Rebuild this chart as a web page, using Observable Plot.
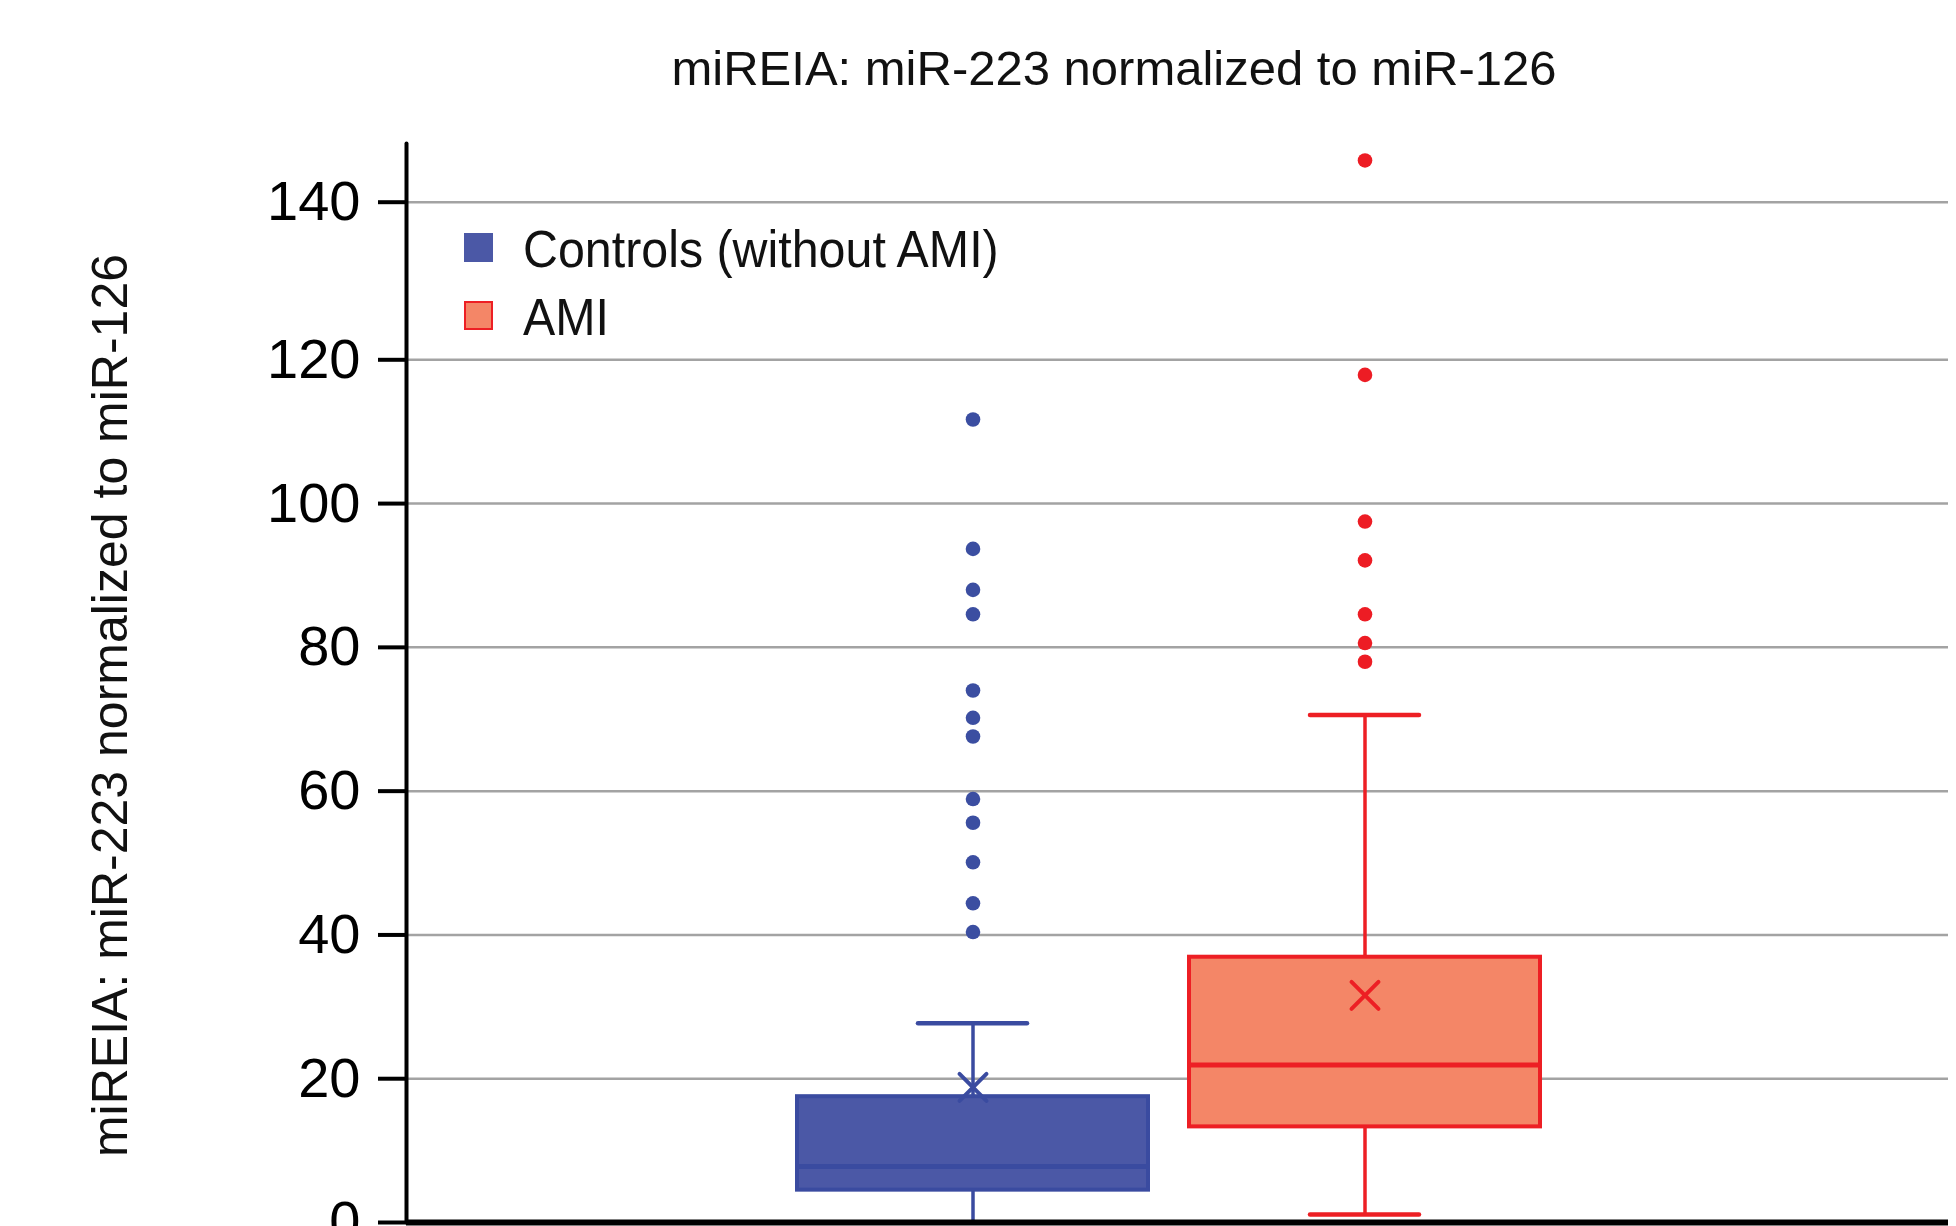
<!DOCTYPE html>
<html><head><meta charset="utf-8">
<script src="https://cdn.jsdelivr.net/npm/d3@7"></script>
<script src="https://cdn.jsdelivr.net/npm/@observablehq/plot@0.6"></script>
<style>
html,body{margin:0;padding:0;background:#fff;}
#wrap{position:relative;width:1956px;height:1226px;overflow:hidden;font-family:"Liberation Sans",Arial,sans-serif;color:#111;}
#title{height:120px;box-sizing:border-box;padding-top:44px;padding-left:272px;text-align:center;font-size:49px;line-height:49px;white-space:nowrap;}
.sw{position:absolute;width:29px;height:29px;box-sizing:border-box;}
.lt{position:absolute;font-size:52px;line-height:52px;white-space:nowrap;transform:scaleX(0.93);transform-origin:left center;}
</style></head><body>
<div id="wrap">
<div id="title">miREIA: miR-223 normalized to miR-126</div>
<div id="chart"></div>
<div id="legend"></div>
</div>
<script>
const groups = ["Controls (without AMI)", "AMI"];
const lowerWhisker = [0, 1.1];
const q1 = [4.5, 13.3];
const median = [7.8, 21.9];
const q3 = [17.5, 36.9];
const upperWhisker = [27.7, 70.6];
const mean = [18.8, 31.6];
const outliersControls = [111.7, 93.7, 88.0, 84.6, 74.0, 70.2, 67.6, 58.9, 55.6, 50.1, 44.4, 40.4];
const outliersAMI = [145.3, 117.9, 97.5, 92.1, 84.6, 80.6, 78.0];
const yTicks = [0, 20, 40, 60, 80, 100, 120, 140];
const fills = ["#4B58A6", "#F48667"];
const strokes = ["#3A4BA0", "#ED1F24"];
const dotColors = ["#3B4EA1", "#ED1C24"];
const yLabel = "miREIA: miR-223 normalized to miR-126";

const boxes = groups.map((g, i) => ({group: g, lo: lowerWhisker[i], q1: q1[i], med: median[i], q3: q3[i], hi: upperWhisker[i], mean: mean[i]}));
const outliers = [
  ...outliersControls.map(v => ({group: groups[0], v})),
  ...outliersAMI.map(v => ({group: groups[1], v}))
];

const marks = [
  Plot.gridY(yTicks, {stroke: "#A3A3A3", strokeOpacity: 1, strokeWidth: 2.5}),
  ...groups.flatMap((g, i) => {
    const d = [boxes[i]];
    const c = strokes[i];
    return [
      Plot.ruleX(d, {x: "group", y1: "q3", y2: "hi", stroke: c, strokeWidth: 3.5}),
      Plot.ruleX(d, {x: "group", y1: "lo", y2: "q1", stroke: c, strokeWidth: 3.5}),
      Plot.tickY(d, {x: "group", y: "hi", stroke: c, strokeWidth: 4.5, strokeLinecap: "round", insetLeft: 121, insetRight: 121}),
      Plot.tickY(d, {x: "group", y: "lo", stroke: c, strokeWidth: 4.5, strokeLinecap: "round", insetLeft: 121, insetRight: 121}),
      Plot.barY(d, {x: "group", y1: "q1", y2: "q3", fill: fills[i], stroke: c, strokeWidth: 4}),
      Plot.tickY(d, {x: "group", y: "med", stroke: c, strokeWidth: 5}),
      Plot.dot(d, {x: "group", y: "mean", symbol: "times", r: 12.3, stroke: c, strokeWidth: 4, strokeLinecap: "round"}),
      Plot.dot(outliers.filter(o => o.group === g), {x: "group", y: "v", r: 7.3, fill: dotColors[i], stroke: "none"})
    ];
  }),
  Plot.ruleY([0], {stroke: "#000", strokeWidth: 6}),
  Plot.frame({anchor: "left", stroke: "#000", strokeWidth: 4, strokeLinecap: "round"}),
  Plot.axisY(yTicks, {tickSize: 28, tickPadding: 18, fontSize: 56, strokeWidth: 4, color: "#000", label: null}),
  Plot.text([yLabel], {frameAnchor: "left", textAnchor: "middle", lineAnchor: "middle", rotate: -90, dx: -296, dy: 22.5, fontSize: 50, fill: "#111"})
];

const chart = Plot.plot({
  width: 1956,
  height: 1180,
  marginTop: 23,
  marginBottom: 78,
  marginLeft: 406,
  marginRight: 8,
  style: {fontFamily: "'Liberation Sans', Arial, sans-serif", background: "#fff", overflow: "visible"},
  x: {type: "band", domain: groups, range: [797, 1540], paddingInner: 0.1046, paddingOuter: 0, axis: null},
  y: {type: "linear", domain: [0, 120, 140], range: [1102, 239.3, 81.7]},
  marks
});
document.getElementById("chart").appendChild(chart);

// legend
const legend = document.getElementById("legend");
const legTops = [233, 301];
groups.forEach((g, i) => {
  const sw = document.createElement("div");
  sw.className = "sw";
  sw.style.left = "464px";
  sw.style.top = legTops[i] + "px";
  sw.style.background = fills[i];
  if (i === 1) sw.style.border = "2.5px solid " + strokes[i];
  legend.appendChild(sw);
  const t = document.createElement("div");
  t.className = "lt";
  t.style.left = "523px";
  t.style.top = (legTops[i] - 10) + "px";
  t.textContent = g;
  legend.appendChild(t);
});
</script>
</body></html>
